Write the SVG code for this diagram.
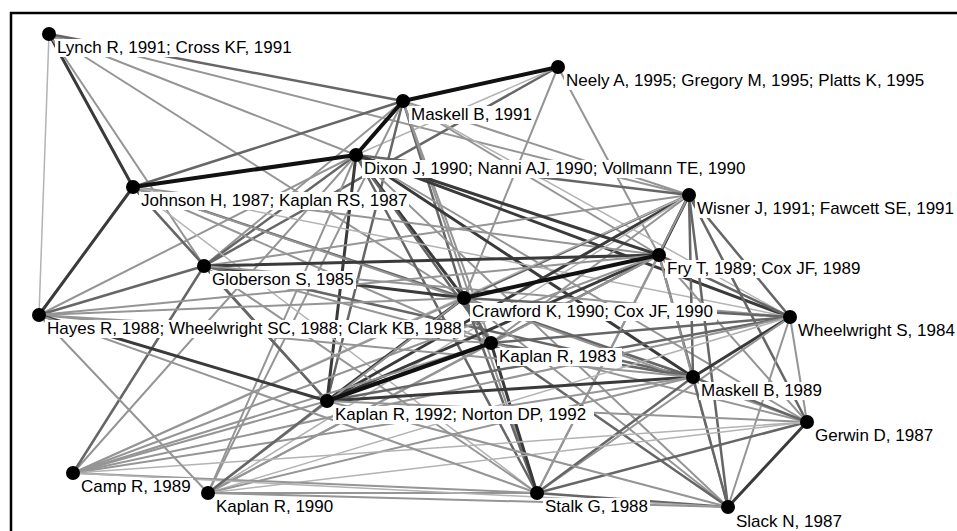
<svg xmlns="http://www.w3.org/2000/svg" width="957" height="531" viewBox="0 0 957 531">
<style>
.c1{stroke:#111;stroke-width:4}
.c2{stroke:#3a3a3a;stroke-width:3}
.c3{stroke:#666;stroke-width:2.5}
.c4{stroke:#959595;stroke-width:2}
.c5{stroke:#b3b3b3;stroke-width:1.5}
#edges line{stroke-linecap:round}
.dot{fill:#000}
.bg{fill:#fff}
.lbl{font-family:"Liberation Sans",Arial,sans-serif;font-size:17px;fill:#000}
</style>
<rect x="0" y="0" width="957" height="531" fill="#fff"/>
<rect x="11" y="13" width="960" height="540" fill="#fff" stroke="#000" stroke-width="2.5"/>
<g id="edges">
<line class="c5" x1="49" y1="34" x2="39" y2="315"/>
<line class="c2" x1="49" y1="34" x2="133" y2="187"/>
<line class="c4" x1="49" y1="34" x2="204" y2="266"/>
<line class="c4" x1="49" y1="34" x2="464" y2="298"/>
<line class="c4" x1="49" y1="34" x2="356" y2="155"/>
<line class="c4" x1="49" y1="34" x2="689" y2="195"/>
<line class="c3" x1="49" y1="34" x2="403" y2="101"/>
<line class="c3" x1="558" y1="67" x2="204" y2="266"/>
<line class="c5" x1="558" y1="67" x2="356" y2="155"/>
<line class="c4" x1="558" y1="67" x2="464" y2="298"/>
<line class="c4" x1="558" y1="67" x2="659" y2="255"/>
<line class="c3" x1="403" y1="101" x2="133" y2="187"/>
<line class="c4" x1="403" y1="101" x2="204" y2="266"/>
<line class="c3" x1="403" y1="101" x2="464" y2="298"/>
<line class="c4" x1="403" y1="101" x2="491" y2="343"/>
<line class="c4" x1="403" y1="101" x2="659" y2="255"/>
<line class="c4" x1="403" y1="101" x2="689" y2="195"/>
<line class="c3" x1="403" y1="101" x2="327" y2="401"/>
<line class="c4" x1="403" y1="101" x2="208" y2="493"/>
<line class="c4" x1="403" y1="101" x2="537" y2="493"/>
<line class="c5" x1="403" y1="101" x2="790" y2="317"/>
<line class="c3" x1="356" y1="155" x2="204" y2="266"/>
<line class="c4" x1="356" y1="155" x2="39" y2="315"/>
<line class="c2" x1="356" y1="155" x2="464" y2="298"/>
<line class="c3" x1="356" y1="155" x2="491" y2="343"/>
<line class="c3" x1="356" y1="155" x2="689" y2="195"/>
<line class="c2" x1="356" y1="155" x2="790" y2="317"/>
<line class="c2" x1="356" y1="155" x2="693" y2="377"/>
<line class="c2" x1="356" y1="155" x2="327" y2="401"/>
<line class="c3" x1="356" y1="155" x2="537" y2="493"/>
<line class="c4" x1="356" y1="155" x2="728" y2="507"/>
<line class="c4" x1="356" y1="155" x2="73" y2="473"/>
<line class="c4" x1="356" y1="155" x2="208" y2="493"/>
<line class="c4" x1="356" y1="155" x2="807" y2="422"/>
<line class="c2" x1="133" y1="187" x2="39" y2="315"/>
<line class="c4" x1="133" y1="187" x2="204" y2="266"/>
<line class="c3" x1="133" y1="187" x2="464" y2="298"/>
<line class="c4" x1="133" y1="187" x2="491" y2="343"/>
<line class="c4" x1="133" y1="187" x2="659" y2="255"/>
<line class="c3" x1="133" y1="187" x2="327" y2="401"/>
<line class="c4" x1="133" y1="187" x2="693" y2="377"/>
<line class="c5" x1="133" y1="187" x2="537" y2="493"/>
<line class="c5" x1="133" y1="187" x2="790" y2="317"/>
<line class="c2" x1="689" y1="195" x2="659" y2="255"/>
<line class="c3" x1="689" y1="195" x2="464" y2="298"/>
<line class="c4" x1="689" y1="195" x2="491" y2="343"/>
<line class="c2" x1="689" y1="195" x2="327" y2="401"/>
<line class="c4" x1="689" y1="195" x2="204" y2="266"/>
<line class="c3" x1="689" y1="195" x2="790" y2="317"/>
<line class="c3" x1="689" y1="195" x2="693" y2="377"/>
<line class="c3" x1="689" y1="195" x2="728" y2="507"/>
<line class="c3" x1="689" y1="195" x2="807" y2="422"/>
<line class="c4" x1="689" y1="195" x2="537" y2="493"/>
<line class="c5" x1="689" y1="195" x2="73" y2="473"/>
<line class="c5" x1="689" y1="195" x2="208" y2="493"/>
<line class="c2" x1="204" y1="266" x2="659" y2="255"/>
<line class="c2" x1="204" y1="266" x2="464" y2="298"/>
<line class="c4" x1="204" y1="266" x2="491" y2="343"/>
<line class="c3" x1="204" y1="266" x2="327" y2="401"/>
<line class="c3" x1="204" y1="266" x2="39" y2="315"/>
<line class="c3" x1="204" y1="266" x2="73" y2="473"/>
<line class="c3" x1="204" y1="266" x2="693" y2="377"/>
<line class="c4" x1="204" y1="266" x2="790" y2="317"/>
<line class="c4" x1="204" y1="266" x2="537" y2="493"/>
<line class="c3" x1="659" y1="255" x2="491" y2="343"/>
<line class="c2" x1="659" y1="255" x2="327" y2="401"/>
<line class="c3" x1="659" y1="255" x2="790" y2="317"/>
<line class="c3" x1="659" y1="255" x2="693" y2="377"/>
<line class="c4" x1="659" y1="255" x2="807" y2="422"/>
<line class="c4" x1="659" y1="255" x2="728" y2="507"/>
<line class="c4" x1="659" y1="255" x2="537" y2="493"/>
<line class="c4" x1="659" y1="255" x2="73" y2="473"/>
<line class="c4" x1="659" y1="255" x2="208" y2="493"/>
<line class="c4" x1="659" y1="255" x2="39" y2="315"/>
<line class="c3" x1="464" y1="298" x2="491" y2="343"/>
<line class="c2" x1="464" y1="298" x2="327" y2="401"/>
<line class="c3" x1="464" y1="298" x2="790" y2="317"/>
<line class="c3" x1="464" y1="298" x2="693" y2="377"/>
<line class="c4" x1="464" y1="298" x2="807" y2="422"/>
<line class="c3" x1="464" y1="298" x2="537" y2="493"/>
<line class="c4" x1="464" y1="298" x2="728" y2="507"/>
<line class="c4" x1="464" y1="298" x2="73" y2="473"/>
<line class="c4" x1="464" y1="298" x2="208" y2="493"/>
<line class="c4" x1="464" y1="298" x2="39" y2="315"/>
<line class="c3" x1="491" y1="343" x2="790" y2="317"/>
<line class="c3" x1="491" y1="343" x2="693" y2="377"/>
<line class="c4" x1="491" y1="343" x2="807" y2="422"/>
<line class="c2" x1="491" y1="343" x2="537" y2="493"/>
<line class="c3" x1="491" y1="343" x2="728" y2="507"/>
<line class="c4" x1="491" y1="343" x2="73" y2="473"/>
<line class="c4" x1="491" y1="343" x2="208" y2="493"/>
<line class="c4" x1="491" y1="343" x2="39" y2="315"/>
<line class="c2" x1="790" y1="317" x2="693" y2="377"/>
<line class="c4" x1="790" y1="317" x2="807" y2="422"/>
<line class="c4" x1="790" y1="317" x2="728" y2="507"/>
<line class="c3" x1="790" y1="317" x2="327" y2="401"/>
<line class="c4" x1="790" y1="317" x2="537" y2="493"/>
<line class="c4" x1="790" y1="317" x2="73" y2="473"/>
<line class="c5" x1="790" y1="317" x2="208" y2="493"/>
<line class="c3" x1="693" y1="377" x2="807" y2="422"/>
<line class="c3" x1="693" y1="377" x2="728" y2="507"/>
<line class="c3" x1="693" y1="377" x2="537" y2="493"/>
<line class="c2" x1="693" y1="377" x2="327" y2="401"/>
<line class="c4" x1="693" y1="377" x2="73" y2="473"/>
<line class="c4" x1="693" y1="377" x2="208" y2="493"/>
<line class="c4" x1="693" y1="377" x2="39" y2="315"/>
<line class="c2" x1="807" y1="422" x2="728" y2="507"/>
<line class="c3" x1="807" y1="422" x2="537" y2="493"/>
<line class="c4" x1="807" y1="422" x2="327" y2="401"/>
<line class="c5" x1="807" y1="422" x2="73" y2="473"/>
<line class="c5" x1="807" y1="422" x2="208" y2="493"/>
<line class="c3" x1="537" y1="493" x2="728" y2="507"/>
<line class="c4" x1="537" y1="493" x2="208" y2="493"/>
<line class="c4" x1="537" y1="493" x2="73" y2="473"/>
<line class="c4" x1="728" y1="507" x2="327" y2="401"/>
<line class="c5" x1="728" y1="507" x2="73" y2="473"/>
<line class="c4" x1="728" y1="507" x2="208" y2="493"/>
<line class="c4" x1="327" y1="401" x2="73" y2="473"/>
<line class="c3" x1="327" y1="401" x2="208" y2="493"/>
<line class="c2" x1="327" y1="401" x2="39" y2="315"/>
<line class="c4" x1="39" y1="315" x2="537" y2="493"/>
<line class="c4" x1="39" y1="315" x2="208" y2="493"/>
<line class="c1" x1="558" y1="67" x2="403" y2="101"/>
<line class="c1" x1="403" y1="101" x2="356" y2="155"/>
<line class="c1" x1="356" y1="155" x2="133" y2="187"/>
<line class="c2" x1="356" y1="155" x2="659" y2="255"/>
<line class="c1" x1="659" y1="255" x2="464" y2="298"/>
<line class="c1" x1="491" y1="343" x2="327" y2="401"/>
</g>
<g id="n-lynch"><rect class="bg" x="55" y="39" width="241" height="18"/><circle class="dot" cx="49" cy="34" r="7"/><text class="lbl" x="57" y="53">Lynch R, 1991; Cross KF, 1991</text></g>
<g id="n-maskell91"><rect class="bg" x="409" y="106" width="125" height="18"/><circle class="dot" cx="403" cy="101" r="7"/><text class="lbl" x="411" y="120">Maskell B, 1991</text></g>
<g id="n-neely"><rect class="bg" x="564" y="72" width="363" height="18"/><circle class="dot" cx="558" cy="67" r="7"/><text class="lbl" x="566" y="86">Neely A, 1995; Gregory M, 1995; Platts K, 1995</text></g>
<g id="n-dixon"><rect class="bg" x="362" y="160" width="388" height="18"/><circle class="dot" cx="356" cy="155" r="7"/><text class="lbl" x="364" y="174">Dixon J, 1990; Nanni AJ, 1990; Vollmann TE, 1990</text></g>
<g id="n-johnson"><rect class="bg" x="139" y="192" width="270" height="18"/><circle class="dot" cx="133" cy="187" r="7"/><text class="lbl" x="141" y="206">Johnson H, 1987; Kaplan RS, 1987</text></g>
<g id="n-wisner"><rect class="bg" x="695" y="200" width="261" height="18"/><circle class="dot" cx="689" cy="195" r="7"/><text class="lbl" x="697" y="214">Wisner J, 1991; Fawcett SE, 1991</text></g>
<g id="n-globerson"><rect class="bg" x="210" y="271" width="146" height="18"/><circle class="dot" cx="204" cy="266" r="7"/><text class="lbl" x="212" y="285">Globerson S, 1985</text></g>
<g id="n-fry"><rect class="bg" x="665" y="260" width="201" height="18"/><circle class="dot" cx="659" cy="255" r="7"/><text class="lbl" x="667" y="274">Fry T, 1989; Cox JF, 1989</text></g>
<g id="n-hayes"><rect class="bg" x="45" y="320" width="419" height="18"/><circle class="dot" cx="39" cy="315" r="7"/><text class="lbl" x="47" y="334">Hayes R, 1988; Wheelwright SC, 1988; Clark KB, 1988</text></g>
<g id="n-crawford"><rect class="bg" x="470" y="303" width="247" height="18"/><circle class="dot" cx="464" cy="298" r="7"/><text class="lbl" x="472" y="317">Crawford K, 1990; Cox JF, 1990</text></g>
<g id="n-wheelwright"><rect class="bg" x="796" y="322" width="161" height="18"/><circle class="dot" cx="790" cy="317" r="7"/><text class="lbl" x="798" y="336">Wheelwright S, 1984</text></g>
<g id="n-kaplan83"><rect class="bg" x="497" y="348" width="125" height="18"/><circle class="dot" cx="491" cy="343" r="7"/><text class="lbl" x="499" y="362">Kaplan R, 1983</text></g>
<g id="n-maskell89"><rect class="bg" x="699" y="382" width="125" height="18"/><circle class="dot" cx="693" cy="377" r="7"/><text class="lbl" x="701" y="396">Maskell B, 1989</text></g>
<g id="n-kaplan92"><rect class="bg" x="333" y="406" width="261" height="18"/><circle class="dot" cx="327" cy="401" r="7"/><text class="lbl" x="335" y="420">Kaplan R, 1992; Norton DP, 1992</text></g>
<g id="n-gerwin"><rect class="bg" x="813" y="427" width="122" height="18"/><circle class="dot" cx="807" cy="422" r="7"/><text class="lbl" x="815" y="441">Gerwin D, 1987</text></g>
<g id="n-camp"><rect class="bg" x="79" y="478" width="114" height="18"/><circle class="dot" cx="73" cy="473" r="7"/><text class="lbl" x="81" y="492">Camp R, 1989</text></g>
<g id="n-kaplan90"><rect class="bg" x="214" y="498" width="125" height="18"/><circle class="dot" cx="208" cy="493" r="7"/><text class="lbl" x="216" y="512">Kaplan R, 1990</text></g>
<g id="n-stalk"><rect class="bg" x="543" y="498" width="107" height="18"/><circle class="dot" cx="537" cy="493" r="7"/><text class="lbl" x="545" y="512">Stalk G, 1988</text></g>
<g id="n-slack"><rect class="bg" x="734" y="512" width="110" height="18"/><circle class="dot" cx="728" cy="507" r="7"/><text class="lbl" x="736" y="527">Slack N, 1987</text></g>
</svg>
